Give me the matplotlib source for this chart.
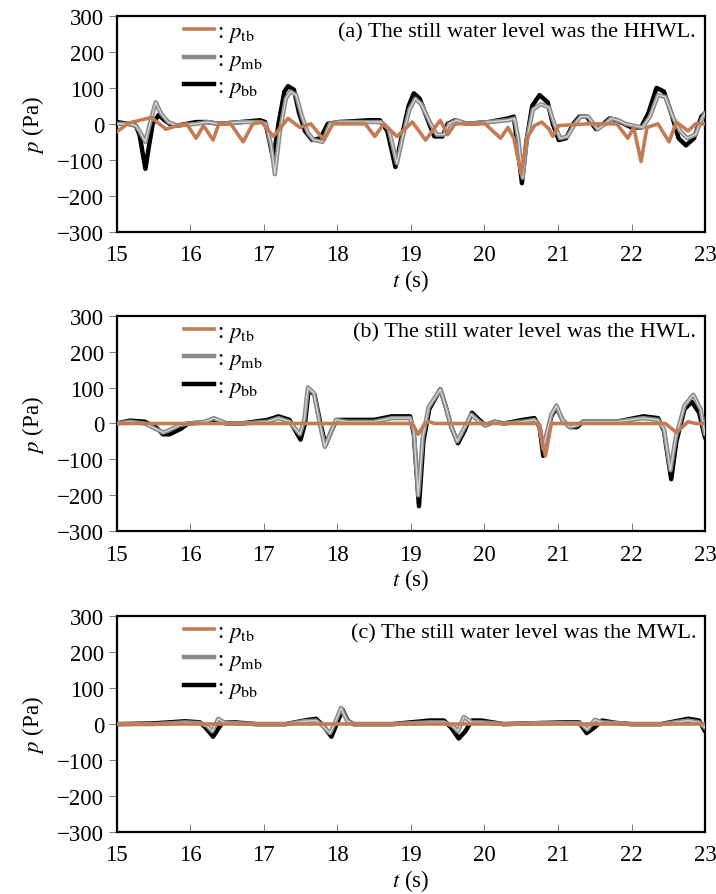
import matplotlib
matplotlib.use("Agg")
import matplotlib.pyplot as plt
from matplotlib.lines import Line2D

plt.rcParams.update({
    "font.family": "Liberation Serif",
    "mathtext.fontset": "stix",
    "font.size": 16.5,
    "axes.linewidth": 1.6,
})

BROWN = "#c27c55"
GREY = "#8a8a8a"

# ---- panel (a): HHWL ----
a_t_bb = [15.0, 15.16, 15.26, 15.31, 15.39, 15.44, 15.49, 15.57, 15.65, 15.72, 15.82, 16.08, 16.23,
          16.39, 16.69, 16.95, 17.02, 17.08, 17.13, 17.20, 17.28, 17.33, 17.41, 17.48, 17.56, 17.66,
          17.77, 17.87, 18.02, 18.43, 18.58, 18.68, 18.79, 18.86, 18.97, 19.04, 19.12, 19.25, 19.32,
          19.43, 19.50, 19.60, 19.76, 20.06, 20.32, 20.40, 20.45, 20.51, 20.57, 20.65, 20.75, 20.86,
          20.93, 21.01, 21.11, 21.21, 21.29, 21.39, 21.52, 21.62, 21.70, 21.80, 21.90, 22.00, 22.13,
          22.23, 22.34, 22.44, 22.54, 22.64, 22.74, 22.85, 22.95, 23.0]
a_p_bb = [5, 0, -5, -30, -125, -60, 0, 25, 10, 0, -5, 5, 5,
          0, 5, 10, 5, -50, -100, 0, 90, 105, 95, 30, -20, -45,
          -40, 0, 5, 10, 10, -20, -120, -50, 50, 85, 70, 0, -35,
          -35, 0, 10, 0, 5, 15, 20, -60, -165, -50, 50, 80, 60,
          0, -45, -40, 0, 20, 20, -15, 0, 15, 10, 0, -10, -10,
          30, 100, 90, 30, -40, -60, -40, 20, 30]
a_t_mb = [15.0, 15.16, 15.26, 15.31, 15.39, 15.45, 15.53, 15.60, 15.70, 15.82, 16.08, 16.23, 16.39,
          16.69, 16.95, 17.03, 17.10, 17.15, 17.22, 17.30, 17.36, 17.44, 17.52, 17.60, 17.68, 17.80,
          17.90, 18.02, 18.43, 18.60, 18.70, 18.81, 18.88, 18.98, 19.06, 19.14, 19.27, 19.35, 19.45,
          19.52, 19.62, 19.76, 20.06, 20.32, 20.41, 20.46, 20.52, 20.58, 20.66, 20.77, 20.88, 20.95,
          21.03, 21.13, 21.23, 21.31, 21.41, 21.54, 21.64, 21.72, 21.82, 21.92, 22.02, 22.15, 22.25,
          22.36, 22.46, 22.56, 22.66, 22.76, 22.87, 22.96, 23.0]
a_p_mb = [0, 0, -5, -20, -50, 0, 60, 30, 5, -5, 0, 5, 0,
          5, 5, 0, -60, -140, -20, 70, 90, 80, 20, -25, -45, -50,
          0, 5, 5, 5, -15, -110, -45, 40, 70, 55, 0, -30, -30,
          0, 10, 0, 5, 10, 15, -40, -150, -40, 40, 55, 45, 0,
          -40, -35, 0, 20, 20, -15, 0, 15, 10, 0, -5, -10, 20,
          80, 75, 20, -20, -40, -30, 15, 30]
a_t_tb = [15.0, 15.16, 15.47, 15.67, 15.82, 15.95, 16.08, 16.18, 16.31, 16.39, 16.55, 16.72, 16.85,
          16.97, 17.13, 17.33, 17.49, 17.64, 17.82, 17.94, 18.20, 18.38, 18.51, 18.63, 18.81, 19.02,
          19.20, 19.40, 19.50, 19.60, 20.01, 20.22, 20.32, 20.40, 20.50, 20.58, 20.68, 20.78, 20.88,
          20.93, 21.01, 21.40, 21.80, 21.95, 22.03, 22.13, 22.21, 22.36, 22.51, 22.61, 22.77, 22.87,
          23.0]
a_p_tb = [-22, 2, 18, -15, -5, 0, -40, -5, -45, 0, 0, -50, 0,
          5, -35, 15, -10, 0, -45, 0, 0, 0, -35, 0, -35, 5,
          -45, 10, -30, 0, 0, -40, -10, -40, -140, -40, -5, 5, -15,
          -35, -5, 0, 0, -40, -10, -105, -10, 0, -50, 5, -20, 0,
          0]

# ---- panel (b): HWL ----
b_t_bb = [15.0, 15.18, 15.38, 15.53, 15.63, 15.72, 15.87, 15.97, 16.20, 16.30, 16.50, 16.70, 17.05,
          17.20, 17.35, 17.43, 17.50, 17.56, 17.61, 17.69, 17.77, 17.84, 17.92, 17.99, 18.13, 18.50,
          18.74, 18.99, 19.04, 19.11, 19.17, 19.25, 19.40, 19.47, 19.55, 19.64, 19.73, 19.83, 19.93,
          20.01, 20.14, 20.26, 20.52, 20.68, 20.75, 20.80, 20.85, 20.91, 20.98, 21.06, 21.16, 21.26,
          21.34, 21.80, 22.16, 22.36, 22.44, 22.54, 22.61, 22.72, 22.82, 22.92, 23.0]
b_p_bb = [0, 8, 5, -10, -30, -30, -15, 0, 3, 10, 0, 0, 10,
          20, 10, -20, -45, 0, 95, 80, 0, -60, -20, 10, 10, 10,
          20, 20, -30, -230, -50, 40, 95, 50, -10, -55, -20, 30, 10,
          -5, 5, 0, 10, 15, -10, -90, -30, 20, 45, 10, -10, -10,
          5, 5, 20, 15, -20, -155, -50, 40, 60, 30, -40]
b_t_mb = [15.0, 15.18, 15.38, 15.53, 15.63, 15.70, 15.85, 15.97, 16.20, 16.32, 16.50, 16.70, 17.05,
          17.20, 17.35, 17.43, 17.49, 17.55, 17.60, 17.68, 17.76, 17.83, 17.91, 17.98, 18.13, 18.50,
          18.74, 18.99, 19.04, 19.10, 19.16, 19.24, 19.40, 19.47, 19.55, 19.63, 19.72, 19.82, 19.93,
          20.01, 20.14, 20.26, 20.52, 20.68, 20.75, 20.80, 20.85, 20.91, 20.98, 21.06, 21.16, 21.26,
          21.34, 21.80, 22.16, 22.36, 22.44, 22.53, 22.60, 22.72, 22.84, 22.94, 23.0]
b_p_mb = [0, 5, 0, -15, -25, -20, -5, 0, 5, 15, 0, 0, 5,
          15, 5, -15, -30, 10, 100, 85, 0, -65, -25, 10, 5, 5,
          15, 15, -20, -200, -40, 45, 95, 50, -10, -50, -15, 25, 5,
          -5, 5, 0, 5, 10, -5, -70, -25, 25, 50, 10, -10, -5,
          5, 5, 15, 10, -15, -130, -40, 50, 80, 40, -30]
b_t_tb = [15.0, 19.02, 19.10, 19.19, 19.25, 19.32, 20.73, 20.83, 20.91, 22.46, 22.61, 22.77, 22.87, 23.0]
b_p_tb = [0, 0, -30, 0, 5, 0, 0, -90, 0, 0, -25, 5, 0, 0]

# ---- panel (c): MWL ----
c_t_bb = [15.0, 15.50, 15.93, 16.13, 16.21, 16.31, 16.39, 16.44, 16.60, 16.90, 17.30, 17.55, 17.71,
          17.81, 17.92, 17.99, 18.07, 18.14, 18.22, 18.75, 19.25, 19.45, 19.55, 19.65, 19.74, 19.83,
          19.96, 20.11, 20.26, 20.77, 21.08, 21.29, 21.39, 21.49, 21.60, 21.80, 22.00, 22.40, 22.77,
          22.92, 23.0]
c_p_bb = [0, 2, 8, 5, -10, -35, -10, 5, 5, 0, 0, 10, 15,
          -5, -35, 0, 40, 10, 0, 0, 10, 10, -10, -40, -20, 10,
          10, 5, 0, 3, 5, 5, -25, -10, 10, 3, 0, 0, 15,
          10, -20]
c_t_mb = [15.0, 15.50, 15.93, 16.13, 16.23, 16.30, 16.38, 16.46, 16.60, 16.90, 17.30, 17.55, 17.71,
          17.80, 17.90, 17.97, 18.05, 18.13, 18.22, 18.75, 19.25, 19.45, 19.57, 19.64, 19.72, 19.83,
          19.96, 20.11, 20.26, 20.77, 21.08, 21.30, 21.40, 21.50, 21.60, 21.80, 22.00, 22.40, 22.77,
          22.92, 23.0]
c_p_mb = [0, 0, 5, 3, -5, -20, 15, 5, 3, 0, 0, 8, 10,
          -5, -25, 5, 45, 10, 0, 0, 5, 5, -5, -20, 20, 5,
          5, 3, 0, 3, 3, 3, -15, 12, 5, 3, 0, 0, 10,
          5, -10]
c_t_tb = [15.0, 23.0]
c_p_tb = [0, 0]

panels = [
    (a_t_tb, a_p_tb, a_t_mb, a_p_mb, a_t_bb, a_p_bb, "(a) The still water level was the HHWL."),
    (b_t_tb, b_p_tb, b_t_mb, b_p_mb, b_t_bb, b_p_bb, "(b) The still water level was the HWL."),
    (c_t_tb, c_p_tb, c_t_mb, c_p_mb, c_t_bb, c_p_bb, "(c) The still water level was the MWL."),
]
bottoms = [0.740, 0.4052, 0.0693]

fig = plt.figure(figsize=(7.16, 8.95), dpi=100)

for (t_tb, p_tb, t_mb, p_mb, t_bb, p_bb, title), b in zip(panels, bottoms):
    ax = fig.add_axes([0.163, b, 0.8217, 0.241])
    line_kw = dict(solid_joinstyle="round", solid_capstyle="round")
    ax.plot(t_bb, p_bb, color="black", lw=3.2, zorder=2, **line_kw)
    ax.plot(t_mb, p_mb, color=GREY, lw=3.2, zorder=3, **line_kw)
    ax.plot(t_mb, p_mb, color="#d4d4d4", lw=1.0, zorder=3, **line_kw)
    ax.plot(t_tb, p_tb, color=BROWN, lw=2.6, zorder=4, **line_kw)

    ax.set_xlim(15, 23)
    ax.set_ylim(-300, 300)
    ax.set_xticks(range(15, 24))
    ax.set_yticks(range(-300, 301, 100))
    ax.tick_params(axis="x", direction="in", length=6, width=0.6, color="#666666", pad=9)
    ax.tick_params(axis="y", direction="out", length=6, width=0.6, color="#666666", pad=3)
    ax.set_xlabel("$t$ (s)", labelpad=1)
    ax.set_ylabel("$p$ (Pa)", labelpad=8)

    ax.text(0.985, 0.925, title, transform=ax.transAxes, ha="right", va="center", fontsize=16)

    handles = [
        Line2D([], [], color=BROWN, lw=2.6),
        Line2D([], [], color=GREY, lw=3.2),
        Line2D([], [], color="black", lw=3.2),
    ]
    labels = [r": $p_{\rm tb}$", r": $p_{\rm mb}$", r": $p_{\rm bb}$"]
    ax.legend(handles, labels, loc="upper left", bbox_to_anchor=(0.095, 1.03), frameon=False,
              borderpad=0, handlelength=1.3, handletextpad=0.15, labelspacing=0.2)

fig.savefig("out.png", dpi=100)
